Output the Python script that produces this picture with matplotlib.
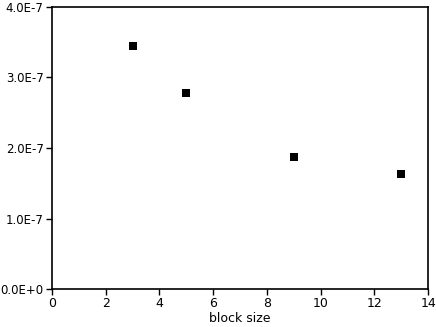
import numpy as np
import matplotlib
matplotlib.use("Agg")
import matplotlib.pyplot as plt
from matplotlib.ticker import FuncFormatter

# data
block_size = [3, 5, 9, 13]
values = [3.45e-7, 2.78e-7, 1.87e-7, 1.63e-7]

plt.rcParams['font.family'] = "DejaVu Sans"
plt.rcParams['font.size'] = 8.5

fig = plt.figure(figsize=(4.36, 3.27), dpi=100)
ax = fig.add_axes([0.119, 0.116, 0.863, 0.863])

ax.scatter(block_size, values, marker="s", s=36, color="black", linewidths=0)

ax.set_xlim(0, 14)
ax.set_ylim(0, 4e-7)
ax.set_xticks(np.arange(0, 15, 2))
ax.set_yticks(np.arange(0, 4.01e-7, 1e-7))


def sci(v, pos):
    if v == 0:
        return "0.0E+0"
    exp = int(np.floor(np.log10(abs(v))))
    return "%.1fE%d" % (v / 10**exp, exp)


ax.yaxis.set_major_formatter(FuncFormatter(sci))
ax.tick_params(direction="out", length=4, width=1, pad=2, colors="black")
ax.tick_params(axis="x", labelsize=9)
for s in ax.spines.values():
    s.set_linewidth(1.2)

ax.set_xlabel("block size", labelpad=1, fontsize=9)

fig.savefig("out.png", dpi=100)
